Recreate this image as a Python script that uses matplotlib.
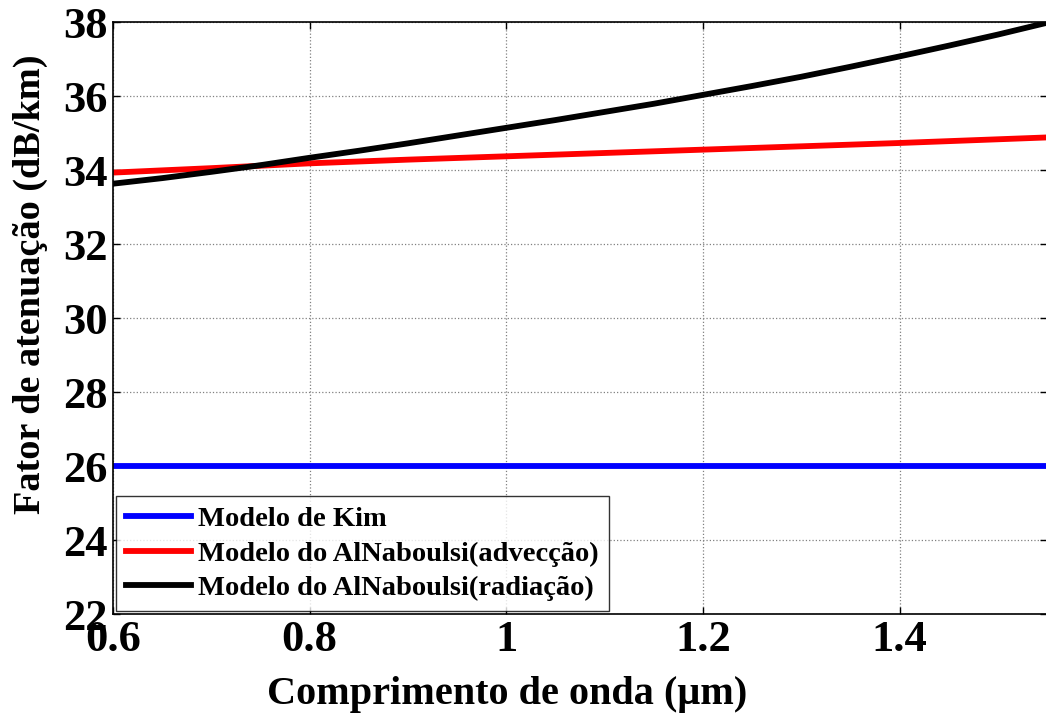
import matplotlib
matplotlib.use("Agg")
import matplotlib.pyplot as plt

# Wavelength samples (µm) and attenuation curves (dB/km)
wavelength_black = [0.60, 0.65, 0.70, 0.75, 0.80, 0.85, 0.90, 0.95, 1.00, 1.05,
                    1.10, 1.15, 1.20, 1.25, 1.30, 1.35, 1.40, 1.45, 1.50, 1.55]
radiation = [33.63, 33.78, 33.95, 34.13, 34.33, 34.52, 34.72, 34.93, 35.14, 35.35,
             35.57, 35.79, 36.03, 36.27, 36.52, 36.79, 37.07, 37.36, 37.66, 37.98]

wavelength_red = [0.60, 0.70, 0.80, 0.90, 1.00, 1.10, 1.20, 1.30, 1.40, 1.50, 1.55]
advection = [33.93, 34.05, 34.18, 34.28, 34.37, 34.46, 34.55, 34.64, 34.73, 34.83, 34.88]

wavelength_kim = [0.60, 1.55]
kim = [26.0, 26.0]

labels = ["Modelo de Kim",
          "Modelo do AlNaboulsi(advecção)",
          "Modelo do AlNaboulsi(radiação)"]
xticks = [0.6, 0.8, 1.0, 1.2, 1.4]
xticklabels = ["0.6", "0.8", "1", "1.2", "1.4"]
yticks = [22, 24, 26, 28, 30, 32, 34, 36, 38]

plt.rcParams["font.family"] = ["Liberation Serif", "DejaVu Serif"]
plt.rcParams["font.weight"] = "bold"

W, H = 1046, 715
fig = plt.figure(figsize=(W / 100, H / 100), dpi=100)
left, right, top, bottom = 113, 1047, 22, 614
ax = fig.add_axes([left / W, 1 - bottom / H, (right - left) / W, (bottom - top) / H])

ax.plot(wavelength_kim, kim, color="#0000ff", lw=4.2, label=labels[0])
ax.plot(wavelength_red, advection, color="#ff0000", lw=4.2, label=labels[1])
ax.plot(wavelength_black, radiation, color="#000000", lw=4.2, label=labels[2])

ax.set_xlim(0.6, 1.55)
ax.set_ylim(22, 38)
ax.set_xticks(xticks)
ax.set_xticklabels(xticklabels)
ax.set_yticks(yticks)
ax.tick_params(direction="in", top=True, right=True, length=5, width=1,
               labelsize=32, pad=4)
for lab in ax.get_xticklabels() + ax.get_yticklabels():
    lab.set_fontweight("bold")

ax.grid(True, color="#808080", linestyle=":", linewidth=0.9)
for sp in ax.spines.values():
    sp.set_linewidth(1.2)

ax.set_xlabel("Comprimento de onda (μm)", fontsize=29, fontweight="bold")
ax.set_ylabel("Fator de atenuação (dB/km)", fontsize=27.5, fontweight="bold")
ax.xaxis.set_label_coords((507 - left) / (right - left), -(704 - bottom) / (bottom - top),
                          transform=ax.transAxes)
ax.yaxis.set_label_coords(-(113 - 30) / (right - left), (bottom - 284) / (bottom - top),
                          transform=ax.transAxes)
ax.xaxis.label.set_verticalalignment("baseline")
ax.yaxis.label.set_verticalalignment("center")

leg = ax.legend(loc="lower left", fontsize=20.5, frameon=True, fancybox=False,
                edgecolor="black", handlelength=2.3, borderaxespad=0.1,
                labelspacing=0.3, handletextpad=0.25, borderpad=0.35)
leg.get_frame().set_linewidth(1.0)
for t in leg.get_texts():
    t.set_fontweight("bold")

fig.savefig("out.png", dpi=100)
